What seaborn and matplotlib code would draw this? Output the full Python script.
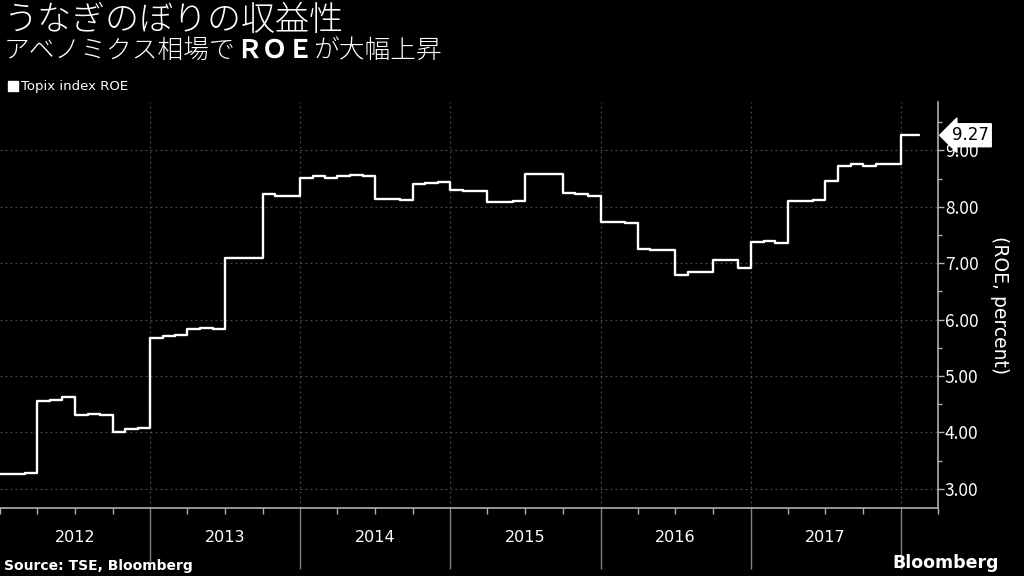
import matplotlib
matplotlib.use("Agg")
import matplotlib.pyplot as plt
import matplotlib.dates as mdates
from matplotlib.lines import Line2D
from matplotlib.ticker import MultipleLocator, FormatStrFormatter
import seaborn as sns
import pandas as pd

# ---- data (monthly) ----
start_month = "2012-01-01"
roe_values = [
    3.27, 3.26, 3.28, 4.55, 4.57, 4.62, 4.31, 4.32, 4.31, 4.01, 4.07, 4.08,   # 2012
    5.68, 5.71, 5.72, 5.83, 5.85, 5.84, 7.09, 7.10, 7.09, 8.22, 8.19, 8.19,   # 2013
    8.51, 8.55, 8.52, 8.55, 8.56, 8.55, 8.14, 8.14, 8.12, 8.41, 8.43, 8.44,   # 2014
    8.30, 8.29, 8.28, 8.08, 8.09, 8.10, 8.59, 8.58, 8.59, 8.25, 8.22, 8.19,   # 2015
    7.74, 7.73, 7.72, 7.25, 7.23, 7.23, 6.79, 6.84, 6.85, 7.05, 7.05, 6.92,   # 2016
    7.37, 7.39, 7.36, 8.10, 8.10, 8.12, 8.45, 8.73, 8.76, 8.73, 8.76, 8.76,   # 2017
    9.27, 9.27,                                                              # 2018
]
last_date = "2018-02-15"
last_value = 9.27
years = ["2012", "2013", "2014", "2015", "2016", "2017"]
year_boundaries = ["2013", "2014", "2015", "2016", "2017", "2018"]
y_ticks = [3, 4, 5, 6, 7, 8, 9]

title = "うなぎのぼりの収益性"
subtitle_parts = ["アベノミクス相場で", "ＲＯＥ", "が大幅上昇"]
series_name = "Topix index ROE"
y_label = "(ROE, percent)"
source = "Source: TSE, Bloomberg"

dates = list(pd.date_range(start_month, periods=len(roe_values), freq="MS")) + [pd.Timestamp(last_date)]
vals = roe_values + [last_value]
df = pd.DataFrame({"date": dates, "roe": vals})

# ---- style ----
sns.set_theme(style="dark")
plt.rcParams["font.family"] = ["Noto Sans CJK JP", "DejaVu Sans"]
fg = "white"
grid_c = "#4a4a4a"
axis_c = "#b0b0b0"

fig = plt.figure(figsize=(10.24, 5.76), dpi=100, facecolor="black")
ax = fig.add_axes([0.0, 0.118, 0.916, 0.705])
ax.set_facecolor("black")

sns.lineplot(data=df, x="date", y="roe", ax=ax, color=fg, linewidth=1.7,
             drawstyle="steps-post", legend=False)

ax.set_xlim(pd.Timestamp("2012-01-01"), pd.Timestamp("2018-04-01"))
ax.set_ylim(2.66, 9.86)

# y axis on right
ax.yaxis.tick_right()
ax.yaxis.set_label_position("right")
ax.set_yticks(y_ticks)
ax.yaxis.set_major_formatter(FormatStrFormatter("%.2f"))
ax.yaxis.set_minor_locator(MultipleLocator(0.5))
ax.tick_params(axis="y", which="major", length=4, width=1, color=axis_c,
               labelcolor=fg, labelsize=12.5, pad=1, left=False, right=True)
ax.tick_params(axis="y", which="minor", length=3, width=1, color=axis_c,
               left=False, right=True)
ax.set_ylabel(y_label, color=fg, fontsize=13.5, rotation=270, labelpad=22,
              family=["DejaVu Sans"])

# x axis: long year separators, quarter ticks
ax.set_xticks([mdates.date2num(pd.Timestamp(f"{y}-01-01")) for y in year_boundaries])
ax.xaxis.set_minor_locator(mdates.MonthLocator(bymonth=[1, 4, 7, 10]))
ax.xaxis.set_major_formatter(plt.NullFormatter())
ax.tick_params(axis="x", which="major", length=44, width=1, color="#808080", bottom=True)
ax.tick_params(axis="x", which="minor", length=4, width=1, color=axis_c, bottom=True)
ax.set_xlabel("")

# year labels at mid-year
sec = ax.secondary_xaxis("bottom")
sec.set_xticks([mdates.date2num(pd.Timestamp(f"{y}-07-01")) for y in years])
sec.set_xticklabels(years)
sec.tick_params(length=0, pad=16, labelcolor=fg, labelsize=11.5)
sec.spines["bottom"].set_visible(False)
for lab in sec.get_xticklabels():
    lab.set_family(["DejaVu Sans"])

# grid
ax.grid(True, which="major", axis="both", color=grid_c, linestyle=(0, (1.5, 2.5)), linewidth=0.9)

for s in ["top", "left"]:
    ax.spines[s].set_visible(False)
for s in ["bottom", "right"]:
    ax.spines[s].set_visible(True)
    ax.spines[s].set_color(axis_c)
    ax.spines[s].set_linewidth(1.2)

# last value tag
ax.annotate(f"{last_value:.2f}", xy=(1.0, last_value), xycoords=("axes fraction", "data"),
            xytext=(10, 0), textcoords="offset points", va="center", ha="left",
            color="black", fontsize=12, family=["DejaVu Sans"],
            bbox=dict(boxstyle="larrow,pad=0.15", fc="white", ec="white"))

# titles
fig.text(0.004, 0.965, title, color=fg, fontsize=24.5, va="center", ha="left", fontweight="light")
t1 = fig.text(0.004, 0.912, subtitle_parts[0], color=fg, fontsize=18.5, va="center",
              ha="left", fontweight="light")
fig.canvas.draw()
r = fig.canvas.get_renderer()
x2 = t1.get_window_extent(r).x1 / fig.bbox.width
t2 = fig.text(x2, 0.912, subtitle_parts[1], color=fg, fontsize=18.5, va="center", ha="left",
              fontweight="bold")
x3 = t2.get_window_extent(r).x1 / fig.bbox.width
fig.text(x3, 0.912, subtitle_parts[2], color=fg, fontsize=18.5, va="center", ha="left",
         fontweight="light")

# legend
handle = Line2D([], [], marker="s", color="white", linestyle="", markersize=7)
fig.legend([handle], [series_name], loc="center left", bbox_to_anchor=(-0.005, 0.849),
           frameon=False, handletextpad=0.1, handlelength=1.0,
           labelcolor=fg, prop={"family": ["DejaVu Sans"], "size": 9.5})

fig.text(0.004, 0.018, source, color=fg, fontsize=10, fontweight="bold", va="center",
         ha="left", family=["DejaVu Sans"])
fig.text(0.975, 0.022, "Bloomberg", color=fg, fontsize=12.5, fontweight="bold",
         va="center", ha="right", family=["DejaVu Sans"])

fig.savefig("out.png", dpi=100, facecolor="black")
